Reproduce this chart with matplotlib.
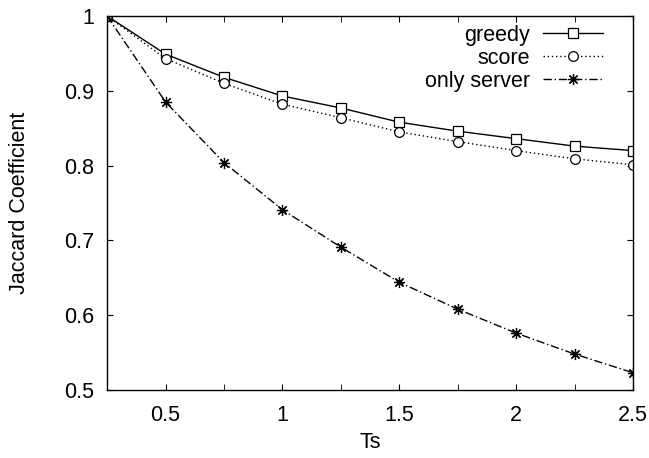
import matplotlib
matplotlib.use('Agg')
import matplotlib.pyplot as plt

plt.rcParams['font.family'] = ['Liberation Sans', 'DejaVu Sans']

ts = [0.25, 0.5, 0.75, 1.0, 1.25, 1.5, 1.75, 2.0, 2.25, 2.5]
greedy = [1.0, 0.949, 0.918, 0.893, 0.877, 0.858, 0.846, 0.836, 0.826, 0.820]
score = [1.0, 0.943, 0.910, 0.882, 0.864, 0.845, 0.832, 0.820, 0.809, 0.801]
only_server = [1.0, 0.885, 0.804, 0.741, 0.691, 0.644, 0.608, 0.576, 0.548, 0.523]

fontsize = 15.5

fig = plt.figure(figsize=(6.49, 4.58), dpi=100)
ax = fig.add_axes([0.165, 0.1485, 0.8105, 0.8166])

ax.plot(ts, greedy, color='black', linestyle='-', linewidth=1,
        marker='s', markersize=6.5, markerfacecolor='white', markeredgewidth=0.9,
        label='greedy')
ax.plot(ts, score, color='black', linestyle=(0, (1, 2)), linewidth=1,
        marker='o', markersize=7, markerfacecolor='white', markeredgewidth=0.9,
        label='score')
ax.plot(ts, only_server, color='black', linestyle=(0, (6, 2, 1, 2)), linewidth=1,
        marker=(8, 2, 0), markersize=8, markeredgewidth=0.9,
        label='only server')

ax.set_xlim(0.25, 2.5)
ax.set_ylim(0.5, 1.0)
ax.set_xticks([0.5, 1, 1.5, 2, 2.5])
ax.set_xticklabels(['0.5', '1', '1.5', '2', '2.5'])
ax.set_xticks([0.75, 1.25, 1.75, 2.25], minor=True)
ax.set_yticks([0.5, 0.6, 0.7, 0.8, 0.9, 1.0])
ax.set_yticklabels(['0.5', '0.6', '0.7', '0.8', '0.9', '1'])

ax.tick_params(which='both', direction='in', top=True, right=True,
               labelsize=fontsize, length=4.5)
ax.tick_params(axis='x', which='both', pad=11)
ax.tick_params(axis='y', which='both', pad=9)
for s in ax.spines.values():
    s.set_linewidth(1)

ax.set_xlabel('Ts', fontsize=fontsize, labelpad=4)
ax.set_ylabel('Jaccard Coefficient', fontsize=fontsize, labelpad=25)

ax.legend(loc='upper right', frameon=False, markerfirst=False,
          fontsize=fontsize, handlelength=2.8, handletextpad=0.6,
          labelspacing=0.1, borderaxespad=0.2, borderpad=0.2,
          bbox_to_anchor=(0.96, 1.0))

plt.savefig('out.png', dpi=100)
